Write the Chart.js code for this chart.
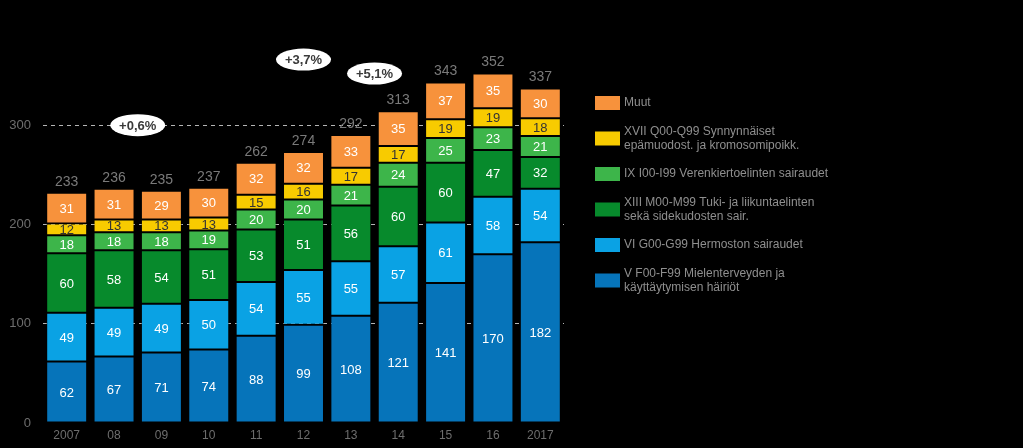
<!DOCTYPE html>
<html>
<head>
<meta charset="utf-8">
<script src="https://cdn.jsdelivr.net/npm/chart.js@4/dist/chart.umd.min.js"></script>
<style>
  html, body { margin: 0; padding: 0; background: #000; }
  #wrap { width: 1023px; height: 448px; position: relative; }
</style>
</head>
<body>
<div id="wrap"><canvas id="c"></canvas></div>
<script>
// ---- Data ----
const categories = ['2007', '08', '09', '10', '11', '12', '13', '14', '15', '16', '2017'];
const mentalHealth   = [62, 67, 71, 74, 88, 99, 108, 121, 141, 170, 182];   // V F00-F99
const nervousSystem  = [49, 49, 49, 50, 54, 55, 55, 57, 61, 58, 54];        // VI G00-G99
const musculoskeletal = [60, 58, 54, 51, 53, 51, 56, 60, 60, 47, 32];        // XIII M00-M99
const circulatory    = [18, 18, 18, 19, 20, 20, 21, 24, 25, 23, 21];        // IX I00-I99
const congenital     = [12, 13, 13, 13, 15, 16, 17, 17, 19, 19, 18];        // XVII Q00-Q99
const other          = [31, 31, 29, 30, 32, 32, 33, 35, 37, 35, 30];        // Muut
const totals         = [233, 236, 235, 237, 262, 274, 292, 313, 343, 352, 337];
const yTicks = [0, 100, 200, 300];

const seriesLabels = {
  mental: ['V F00-F99 Mielenterveyden ja', 'käyttäytymisen häiriöt'],
  nervous: ['VI G00-G99 Hermoston sairaudet'],
  musculo: ['XIII M00-M99 Tuki- ja liikuntaelinten', 'sekä sidekudosten sair.'],
  circ: ['IX I00-I99 Verenkiertoelinten sairaudet'],
  cong: ['XVII Q00-Q99 Synnynnäiset', 'epämuodost. ja kromosomipoikk.'],
  other: ['Muut']
};

// growth annotations: category position (fractional index) and value level
const growthLabels = ['+0,6%', '+3,7%', '+5,1%'];
const growthAt = [1.5, 5.0, 6.5];
const growthLevel = [300, 366, 352];

const FONT = "'Liberation Sans', Arial, sans-serif";

const datasets = [
  { label: seriesLabels.mental, data: mentalHealth, backgroundColor: '#0674BA', labelColor: '#ffffff' },
  { label: seriesLabels.nervous, data: nervousSystem, backgroundColor: '#0AA2E4', labelColor: '#ffffff' },
  { label: seriesLabels.musculo, data: musculoskeletal, backgroundColor: '#078A2C', labelColor: '#ffffff' },
  { label: seriesLabels.circ, data: circulatory, backgroundColor: '#3DB54A', labelColor: '#ffffff' },
  { label: seriesLabels.cong, data: congenital, backgroundColor: '#F8CB00', labelColor: '#333333' },
  { label: seriesLabels.other, data: other, backgroundColor: '#F7923C', labelColor: '#ffffff' }
].map(d => Object.assign(d, {
  borderColor: 'rgba(0,0,0,0.35)',
  borderWidth: 1,
  borderSkipped: false,
  barPercentage: 0.865,
  categoryPercentage: 1.0
}));

const bgPlugin = {
  id: 'bg',
  beforeDraw(chart) {
    const ctx = chart.ctx;
    ctx.save();
    ctx.fillStyle = '#000';
    ctx.fillRect(0, 0, chart.width, chart.height);
    ctx.restore();
  }
};

const labelsPlugin = {
  id: 'segLabels',
  afterDatasetsDraw(chart) {
    const ctx = chart.ctx;
    ctx.save();
    ctx.textAlign = 'center';
    ctx.textBaseline = 'middle';
    ctx.font = '13px ' + FONT;
    chart.data.datasets.forEach((ds, di) => {
      const meta = chart.getDatasetMeta(di);
      meta.data.forEach((bar, i) => {
        const cy = (bar.y + bar.base) / 2;
        ctx.fillStyle = ds.labelColor;
        ctx.fillText(String(ds.data[i]), bar.x, cy + 1);
      });
    });
    // totals
    const yScale = chart.scales.y;
    const lastMeta = chart.getDatasetMeta(chart.data.datasets.length - 1);
    ctx.font = '14px ' + FONT;
    ctx.fillStyle = '#7a7a7a';
    lastMeta.data.forEach((bar, i) => {
      ctx.fillText(String(totals[i]), bar.x, bar.y - 11);
    });
    // growth ovals
    const xScale = chart.scales.x;
    ctx.font = 'bold 13px ' + FONT;
    growthLabels.forEach((t, k) => {
      const x = xScale.getPixelForValue(growthAt[k]);
      const y = yScale.getPixelForValue(growthLevel[k]);
      ctx.beginPath();
      ctx.ellipse(x, y, 27.5, 11, 0, 0, Math.PI * 2);
      ctx.fillStyle = '#ffffff';
      ctx.fill();
      ctx.fillStyle = '#3a3a3a';
      ctx.fillText(t, x, y + 1);
    });
    ctx.restore();
  }
};

const legendPlugin = {
  id: 'customLegend',
  afterDraw(chart) {
    const ctx = chart.ctx;
    ctx.save();
    const n = chart.data.datasets.length;
    const x0 = 595, startY = 103, pitch = 35.5, lineH = 14.5;
    ctx.font = '12px ' + FONT;
    ctx.textAlign = 'left';
    ctx.textBaseline = 'middle';
    for (let k = 0; k < n; k++) {
      const ds = chart.data.datasets[n - 1 - k];
      const cy = startY + k * pitch;
      ctx.fillStyle = ds.backgroundColor;
      ctx.fillRect(x0, cy - 7, 25, 14);
      const lines = ds.label;
      ctx.fillStyle = '#8f8f8f';
      const top = cy - (lines.length - 1) * lineH / 2;
      lines.forEach((ln, j) => ctx.fillText(ln, x0 + 29, top + j * lineH));
    }
    ctx.restore();
  }
};

new Chart(document.getElementById('c'), {
  type: 'bar',
  data: { labels: categories, datasets },
  options: {
    responsive: true,
    maintainAspectRatio: false,
    animation: false,
    layout: { padding: { top: 6, right: 459, left: 0, bottom: 0 } },
    plugins: { legend: { display: false }, tooltip: { enabled: false } },
    scales: {
      x: {
        stacked: true,
        grid: { display: false, drawTicks: false },
        border: { display: false },
        ticks: { color: '#6e6e6e', font: { family: FONT, size: 12 }, padding: 5, maxRotation: 0 },
        afterFit(scale) { scale.height = 25; scale.paddingLeft = 0; scale.paddingRight = 0; }
      },
      y: {
        stacked: true,
        min: 0,
        max: 420,
        afterBuildTicks(scale) { scale.ticks = yTicks.map(v => ({ value: v })); },
        afterFit(scale) { scale.width = 43; scale.paddingTop = 0; scale.paddingBottom = 0; },
        grid: {
          drawTicks: false,
          lineWidth: 1,
          color: ctx => (ctx.tick && ctx.tick.value === 0) ? 'rgba(0,0,0,0)' : '#b5b5b5'
        },
        border: { display: false, dash: [4, 4] },
        ticks: { color: '#6e6e6e', font: { family: FONT, size: 13 }, padding: 12 }
      }
    }
  },
  plugins: [bgPlugin, labelsPlugin, legendPlugin]
});
</script>
</body>
</html>
